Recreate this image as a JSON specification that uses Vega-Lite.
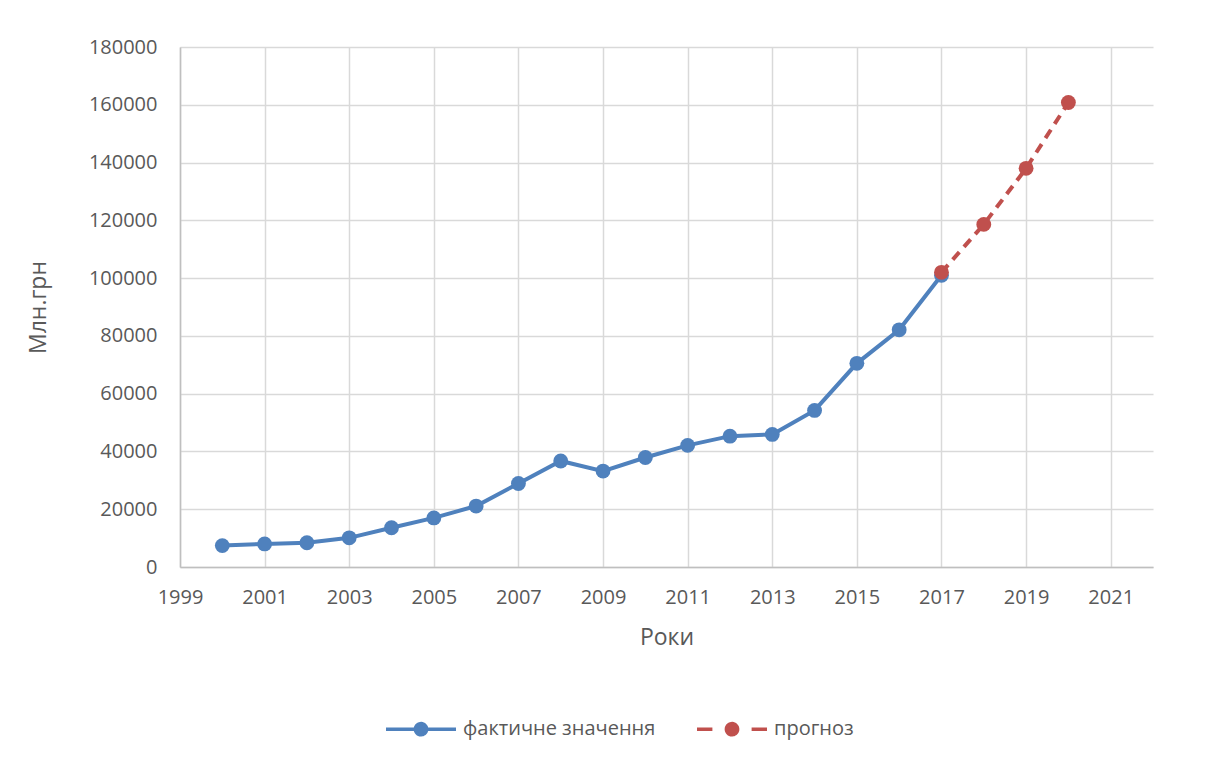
{
  "$schema": "https://vega.github.io/schema/vega-lite/v6.json",
  "width": 973,
  "height": 520,
  "autosize": {"type": "none"},
  "padding": {"left": 180, "top": 47, "right": 55, "bottom": 193},
  "background": "white",
  "config": {
    "font": "Open Sans",
    "view": {"stroke": null},
    "axis": {
      "labelColor": "#595959",
      "titleColor": "#595959",
      "labelFont": "Open Sans",
      "titleFont": "Open Sans",
      "labelFontSize": 20,
      "titleFontSize": 23,
      "titleFontWeight": "normal",
      "ticks": false,
      "gridColor": "#d9d9d9",
      "gridWidth": 1.5,
      "domainColor": "#bfbfbf",
      "domainWidth": 1.5
    }
  },
  "data": {
    "values": [
      {"year": 2000, "value": 7400, "series": "фактичне значення"},
      {"year": 2001, "value": 8000, "series": "фактичне значення"},
      {"year": 2002, "value": 8400, "series": "фактичне значення"},
      {"year": 2003, "value": 10100, "series": "фактичне значення"},
      {"year": 2004, "value": 13600, "series": "фактичне значення"},
      {"year": 2005, "value": 17000, "series": "фактичне значення"},
      {"year": 2006, "value": 21100, "series": "фактичне значення"},
      {"year": 2007, "value": 28900, "series": "фактичне значення"},
      {"year": 2008, "value": 36700, "series": "фактичне значення"},
      {"year": 2009, "value": 33200, "series": "фактичне значення"},
      {"year": 2010, "value": 37900, "series": "фактичне значення"},
      {"year": 2011, "value": 42100, "series": "фактичне значення"},
      {"year": 2012, "value": 45300, "series": "фактичне значення"},
      {"year": 2013, "value": 45900, "series": "фактичне значення"},
      {"year": 2014, "value": 54200, "series": "фактичне значення"},
      {"year": 2015, "value": 70500, "series": "фактичне значення"},
      {"year": 2016, "value": 82100, "series": "фактичне значення"},
      {"year": 2017, "value": 101000, "series": "фактичне значення"},
      {"year": 2017, "value": 102000, "series": "прогноз"},
      {"year": 2018, "value": 118600, "series": "прогноз"},
      {"year": 2019, "value": 138000, "series": "прогноз"},
      {"year": 2020, "value": 160800, "series": "прогноз"}
    ]
  },
  "encoding": {
    "x": {
      "field": "year",
      "type": "quantitative",
      "scale": {"domain": [1999, 2022], "nice": false, "zero": false},
      "axis": {
        "title": "Роки",
        "values": [1999, 2001, 2003, 2005, 2007, 2009, 2011, 2013, 2015, 2017, 2019, 2021],
        "format": "d",
        "labelFlush": false,
        "labelOverlap": false,
        "labelPadding": 20,
        "titlePadding": 19
      }
    },
    "y": {
      "field": "value",
      "type": "quantitative",
      "scale": {"domain": [0, 180000], "nice": false},
      "axis": {
        "title": "Млн.грн",
        "values": [0, 20000, 40000, 60000, 80000, 100000, 120000, 140000, 160000, 180000],
        "format": "d",
        "labelPadding": 23,
        "titlePadding": 38
      }
    },
    "color": {
      "field": "series",
      "type": "nominal",
      "scale": {"domain": ["фактичне значення", "прогноз"], "range": ["#4f81bd", "#c0504d"]},
      "legend": {
        "title": null,
        "orient": "none",
        "direction": "horizontal",
        "legendX": 231,
        "legendY": 672,
        "padding": 0,
        "symbolSize": 196,
        "symbolStrokeWidth": 3.5,
        "labelFont": "Open Sans",
        "labelFontSize": 20,
        "labelColor": "#595959",
        "labelLimit": 400,
        "labelOffset": 32,
        "columnPadding": 34,
        "encode": {
          "symbols": {
            "update": {
              "shape": {"signal": "datum.value === 'прогноз' ? 'M-5,0H-2.8M2.8,0H5M-0.8,0A0.8,0.8,0,1,1,0.8,0A0.8,0.8,0,1,1,-0.8,0Z' : 'M-5,0H5M-0.8,0A0.8,0.8,0,1,1,0.8,0A0.8,0.8,0,1,1,-0.8,0Z'"},
              "stroke": {"signal": "datum.value === 'прогноз' ? '#c0504d' : '#4f81bd'"},
              "fill": {"signal": "datum.value === 'прогноз' ? '#c0504d' : '#4f81bd'"},
              "strokeWidth": {"value": 3.5},
              "strokeDash": {"value": [1, 0]},
              "opacity": {"value": 1}
            }
          }
        }
      }
    }
  },
  "layer": [
    {
      "transform": [{"filter": "datum.series === 'фактичне значення'"}],
      "mark": {"type": "line", "strokeWidth": 4}
    },
    {
      "transform": [{"filter": "datum.series === 'прогноз'"}],
      "mark": {"type": "line", "strokeWidth": 4, "strokeDash": [10, 7]}
    },
    {
      "mark": {"type": "point", "filled": true, "size": 220, "opacity": 1}
    }
  ]
}
